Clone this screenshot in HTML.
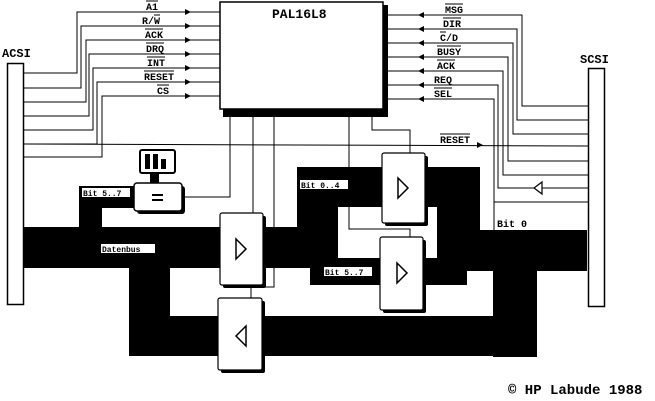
<!DOCTYPE html>
<html><head><meta charset="utf-8"><style>
html,body{margin:0;padding:0;background:#fff;}
svg{display:block;}
text{font-family:"Liberation Mono",monospace;font-weight:bold;}
</style></head><body>
<svg width="655" height="401" viewBox="0 0 655 401" xmlns="http://www.w3.org/2000/svg">
<rect width="655" height="401" fill="#fff"/>
<g fill="#000">
<rect x="22" y="227" width="316" height="41"/>
<rect x="79" y="186" width="23" height="41"/>
<rect x="79" y="186" width="56" height="22"/>
<rect x="297" y="167" width="183" height="61"/>
<rect x="297" y="167" width="41" height="101"/>
<rect x="437" y="167" width="43" height="104"/>
<rect x="437" y="230" width="150" height="41"/>
<rect x="310" y="258" width="157" height="27"/>
<rect x="437" y="258" width="150" height="13"/>
<rect x="493" y="258" width="44" height="99"/>
<rect x="129" y="316" width="408" height="40"/>
<rect x="129" y="267" width="41" height="89"/>
</g>
<rect x="338" y="207" width="99" height="51" fill="#fff"/>
<rect x="7.5" y="63.5" width="16" height="241" fill="#fff" stroke="#000" stroke-width="1.5"/>
<rect x="588.5" y="68.5" width="16" height="238" fill="#fff" stroke="#000" stroke-width="1.5"/>
<text x="2" y="57" font-size="12">ACSI</text>
<text x="580" y="63" font-size="12">SCSI</text>
<g fill="none" stroke="#000" stroke-width="1">
<polyline points="24,73 77,73 77,12 220,12"/>
<polyline points="24,88 81,88 81,26 220,26"/>
<polyline points="24,102 86,102 86,40 220,40"/>
<polyline points="24,116 89,116 89,54 220,54"/>
<polyline points="24,130 93,130 93,68 220,68"/>
<polyline points="24,144 97,144 97,82 220,82"/>
<polyline points="24,157 102,157 102,96 220,96"/>
<line x1="24" y1="144" x2="588" y2="146"/>
<polyline points="388,15 522,15 522,106 588,106"/>
<polyline points="388,29 517,29 517,120 588,120"/>
<polyline points="388,43 513,43 513,134 588,134"/>
<polyline points="388,57 508,57 508,161 588,161"/>
<polyline points="388,71 503,71 503,175 588,175"/>
<polyline points="388,85 498,85 498,188 588,188"/>
<polyline points="388,99 494,99 494,230"/>
<line x1="494" y1="202" x2="588" y2="202"/>
<polyline points="230,117 230,197 183,197"/>
<line x1="253" y1="117" x2="253" y2="213"/>
<polyline points="274,117 274,287 251,287 251,298"/>
<polyline points="372,117 372,130 410,130 410,153"/>
<polyline points="349,117 349,229 410,229 410,237"/>
</g>
<g fill="#000">
<polygon points="185,9 191,12 185,15"/><polygon points="185,23 191,26 185,29"/><polygon points="185,37 191,40 185,43"/>
<polygon points="185,51 191,54 185,57"/><polygon points="185,65 191,68 185,71"/><polygon points="185,79 191,82 185,85"/>
<polygon points="185,93 191,96 185,99"/>
<polygon points="424,12 418,15 424,18"/><polygon points="424,26 418,29 424,32"/><polygon points="424,40 418,43 424,46"/>
<polygon points="424,54 418,57 424,60"/><polygon points="424,68 418,71 424,74"/><polygon points="424,82 418,85 424,88"/>
<polygon points="424,96 418,99 424,102"/>
<polygon points="477,142 483,145 477,148"/>
</g>
<polygon points="542,182 542,194 534,188" fill="#fff" stroke="#000" stroke-width="1.2"/>
<g font-size="10">
<text x="146" y="10">A1</text>
<text x="142" y="24">R/W</text>
<text x="145" y="38">ACK</text>
<text x="146" y="52">DRQ</text>
<text x="147" y="66">INT</text>
<text x="144" y="80">RESET</text>
<text x="157" y="94">CS</text>
<text x="445" y="13">MSG</text>
<text x="443" y="27">DIR</text>
<text x="440" y="41">C/D</text>
<text x="437" y="55">BUSY</text>
<text x="437" y="69">ACK</text>
<text x="434" y="83">REQ</text>
<text x="434" y="97">SEL</text>
<text x="440" y="143">RESET</text>
<text x="497" y="227">Bit 0</text>
</g>
<g stroke="#000" stroke-width="1">
<line x1="146" y1="1" x2="158" y2="1"/><line x1="154" y1="15" x2="160" y2="15"/><line x1="145" y1="29" x2="163" y2="29"/>
<line x1="146" y1="43" x2="164" y2="43"/><line x1="147" y1="57" x2="165" y2="57"/><line x1="144" y1="71" x2="174" y2="71"/>
<line x1="157" y1="85" x2="169" y2="85"/><line x1="445" y1="4" x2="463" y2="4"/><line x1="443" y1="18" x2="461" y2="18"/>
<line x1="440" y1="32" x2="446" y2="32"/><line x1="437" y1="46" x2="461" y2="46"/><line x1="437" y1="60" x2="455" y2="60"/>
<line x1="434" y1="88" x2="452" y2="88"/><line x1="440" y1="134" x2="470" y2="134"/>
</g>
<g font-size="8">
<rect x="82" y="188" width="48" height="9" fill="#fff"/><text x="83" y="196">Bit 5..7</text>
<rect x="101" y="244" width="54" height="9" fill="#fff"/><text x="102" y="252">Datenbus</text>
<rect x="300" y="180" width="48" height="9" fill="#fff"/><text x="301" y="188">Bit 0..4</text>
<rect x="324" y="267" width="48" height="9" fill="#fff"/><text x="325" y="275">Bit 5..7</text>
</g>
<rect x="223" y="5" width="165" height="112" fill="#000"/>
<rect x="220" y="2" width="163" height="107" fill="#fff" stroke="#000" stroke-width="1.5"/>
<text x="272" y="18" font-size="13">PAL16L8</text>
<rect x="150" y="172" width="9" height="12" fill="#000"/>
<rect x="140" y="150" width="35" height="23" rx="2" fill="#fff" stroke="#000" stroke-width="2"/>
<rect x="145" y="154" width="5" height="15" fill="#000"/><rect x="153" y="154" width="5" height="15" fill="#000"/><rect x="161" y="159" width="5" height="10" fill="#000"/>
<rect x="137" y="186" width="48" height="28" rx="3" fill="#000"/>
<rect x="134" y="183" width="48" height="28" rx="3" fill="#fff" stroke="#000" stroke-width="1.5"/>
<rect x="152" y="194" width="11" height="2" fill="#000"/><rect x="152" y="199" width="11" height="2" fill="#000"/>
<g>
<rect x="223" y="216" width="43" height="72" rx="2" fill="#000"/>
<rect x="220" y="213" width="43" height="72" rx="2" fill="#fff" stroke="#000" stroke-width="1.2"/>
<polygon points="236,239 246,249 236,259" fill="none" stroke="#000" stroke-width="1.5"/>
<rect x="221" y="301" width="44" height="72" rx="2" fill="#000"/>
<rect x="218" y="298" width="44" height="72" rx="2" fill="#fff" stroke="#000" stroke-width="1.2"/>
<polygon points="246,326 236,336 246,346" fill="none" stroke="#000" stroke-width="1.5"/>
<rect x="385" y="156" width="43" height="70" rx="2" fill="#000"/>
<rect x="382" y="153" width="43" height="70" rx="2" fill="#fff" stroke="#000" stroke-width="1.2"/>
<polygon points="398,178 408,188 398,198" fill="none" stroke="#000" stroke-width="1.5"/>
<rect x="383" y="240" width="43" height="73" rx="2" fill="#000"/>
<rect x="380" y="237" width="43" height="73" rx="2" fill="#fff" stroke="#000" stroke-width="1.2"/>
<polygon points="397,263 407,273 397,283" fill="none" stroke="#000" stroke-width="1.5"/>
</g>
<text x="508" y="394" font-family="Liberation Sans, sans-serif" font-weight="bold" font-size="14">© HP Labude 1988</text>
</svg>
</body></html>
